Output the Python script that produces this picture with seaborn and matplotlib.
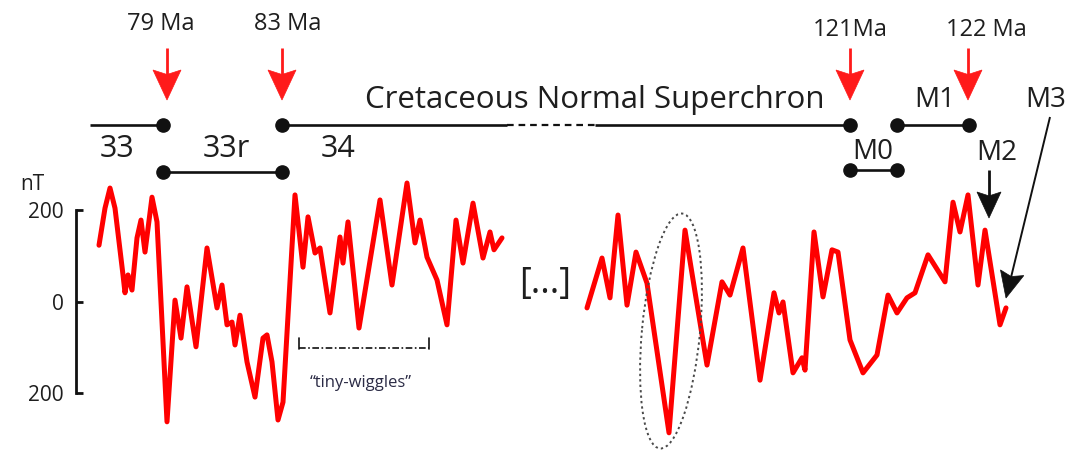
import matplotlib
matplotlib.use("Agg")
import matplotlib.pyplot as plt
import numpy as np
import pandas as pd
import seaborn as sns
from matplotlib.patches import Ellipse, Polygon

# ---- magnetic anomaly profile (along-track distance, total-field anomaly in nT)
dist_a = [99, 105, 110, 115, 123, 125, 128, 132, 137, 141, 145, 152, 157, 167,
          175, 181, 187, 196, 207, 217, 222, 227, 232, 235, 240, 247, 255, 263,
          267, 272, 278, 283, 295, 303, 308, 315, 320, 330, 340, 343, 348, 359,
          380, 392, 407, 415, 420, 427, 437, 447, 456, 463, 473, 483, 490, 494,
          502]
anom_a = [123, 204, 248, 204, 58, 19, 58, 25, 139, 178, 108, 228, 174, -263,
          3, -80, 32, -99, 117, -14, 36, -51, -45, -95, -30, -132, -209, -80,
          -73, -132, -259, -220, 233, 75, 185, 106, 117, -25, 141, 84, 174, -58,
          222, 36, 259, 128, 178, 97, 47, -51, 178, 84, 215, 95, 152, 113,
          139]

dist_b = [587, 602, 610, 618, 627, 636, 647, 669, 685, 695, 707, 722, 730,
          743, 760, 774, 779, 783, 793, 802, 805, 814, 823, 832, 838, 850, 863,
          877, 888, 897, 907, 915, 928, 945, 953, 960, 968, 978, 985, 1000,
          1006]
anom_b = [-14, 95, 8, 189, -8, 108, 40, -287, 156, 21, -139, 43, 14,
          117, -172, 19, -25, -1, -156, -123, -150, 152, 10, 113, 108, -84, -156,
          -117, 14, -25, 8, 19, 102, 43, 217, 152, 233, 36, 156, -51,
          -14]

scale_ticks = [-200, 0, 200]
scale_labels = ["200", "0", "200"]

age_labels = ["79 Ma", "83 Ma", "121Ma", "122 Ma"]
chron_labels = ["33", "33r", "34"]
m_labels = ["M0", "M1", "M2", "M3"]

profile = pd.concat([
    pd.DataFrame({"dist": dist_a, "anom": anom_a, "segment": "a"}),
    pd.DataFrame({"dist": dist_b, "anom": anom_b, "segment": "b"}),
], ignore_index=True)

sns.set_theme(style="white")
plt.rcParams["font.family"] = ["Open Sans", "DejaVu Sans"]

W, H = 1066, 455
fig = plt.figure(figsize=(W / 100, H / 100), dpi=100)
fig.patch.set_facecolor("white")

# profile axes: nT vertical scale, 0 nT at row 301.5, 0.4575 px per nT
ax = fig.add_axes([0, 0, 1, 1])
sns.lineplot(data=profile, x="dist", y="anom", units="segment", estimator=None,
             color="#ff0000", lw=3.6, ax=ax, legend=False)
for ln in ax.get_lines():
    ln.set_solid_joinstyle("round")
    ln.set_solid_capstyle("round")
px_per_nt = 0.4575
zero_row = 301.5
ax.set_xlim(0, W)
ax.set_ylim((zero_row - H) / px_per_nt, zero_row / px_per_nt)
ax.set_xlabel("")
ax.set_ylabel("")
ax.set_xticks([])
ax.patch.set_alpha(0)
for side in ("top", "right", "bottom"):
    ax.spines[side].set_visible(False)
ax.spines["left"].set_position(("data", 76))
ax.spines["left"].set_bounds(-200, 200)
ax.spines["left"].set_linewidth(2.0)
ax.spines["left"].set_color("#111111")
ax.set_yticks(scale_ticks)
ax.set_yticklabels(scale_labels)
ax.tick_params(axis="y", direction="in", length=5, width=2.0, color="#111111",
               pad=9, labelsize=15, labelcolor="#1e1e1e", left=True)

# annotation layer in figure pixel coordinates
ov = fig.add_axes([0, 0, 1, 1])
ov.set_xlim(0, W)
ov.set_ylim(H, 0)
ov.axis("off")
ov.patch.set_alpha(0)

ink = "#111111"
red = "#ff1a1a"
txt = "#1e1e1e"


def arrow(x0, y0, x1, y1, color, lw, head_len, head_w, notch=0.15):
    v = np.array([x1 - x0, y1 - y0], dtype=float)
    L = np.hypot(*v)
    u = v / L
    n = np.array([-u[1], u[0]])
    tip = np.array([x1, y1], dtype=float)
    base = tip - u * head_len
    ov.plot([x0, base[0] + u[0] * head_len * 0.3], [y0, base[1] + u[1] * head_len * 0.3],
            color=color, lw=lw, solid_capstyle="butt")
    pts = [base + n * head_w / 2, tip, base - n * head_w / 2,
           base + u * head_len * notch]
    ov.add_patch(Polygon(pts, closed=True, facecolor=color, edgecolor=color, lw=0.5))


# age labels with red arrows
age_text_x = [161, 288, 850, 986]
age_text_y = [24, 24, 30, 30]
age_arrow_x = [167, 282, 850, 968]
for lab, tx, ty, axx in zip(age_labels, age_text_x, age_text_y, age_arrow_x):
    ov.text(tx, ty, lab, ha="center", va="center", fontsize=17, color=txt)
    arrow(axx, 48, axx, 100, red, 2.0, 30, 28)

# polarity chron bars
line_kw = dict(color=ink, lw=1.9, solid_capstyle="butt")
dot_kw = dict(marker="o", ms=9.5, color=ink, ls="none")
ov.plot([90, 163], [125, 125], **line_kw)
ov.plot([282, 507], [125, 125], **line_kw)
ov.plot([507, 595], [125, 125], color=ink, lw=1.6, dashes=(3, 2.2))
ov.plot([595, 850], [125, 125], **line_kw)
ov.plot([897, 969], [125, 125], **line_kw)
ov.plot([163, 282], [172, 172], **line_kw)
ov.plot([850, 897], [170, 170], **line_kw)
ov.plot([163, 282, 850, 897, 969], [125] * 5, **dot_kw)
ov.plot([163, 282, 850, 897], [172, 172, 170, 170], **dot_kw)

ov.text(595, 100, "Cretaceous Normal Superchron", ha="center", va="center",
        fontsize=22.5, color=txt)
for lab, x in zip(chron_labels, [117, 226, 338]):
    ov.text(x, 149, lab, ha="center", va="center", fontsize=22, color=txt)
for lab, (x, y) in zip(m_labels, [(873, 152), (935, 100), (997, 153), (1046, 100)]):
    ov.text(x, y, lab, ha="center", va="center", fontsize=20, color=txt)

# black pointers to M2 and M3
arrow(989, 170, 989, 218, ink, 2.0, 26, 24)
arrow(1050, 117, 1006, 298, ink, 1.4, 26, 24)

# scale unit, gap marker and annotations
ov.text(32, 184, "nT", ha="center", va="center", fontsize=15, color=txt)
ov.text(545, 284, "[...]", ha="center", va="center", fontsize=26, color=txt)

ov.add_patch(Ellipse((671, 331), width=236, height=58, angle=-84.6, fill=False,
                     edgecolor="#4a4a4a", lw=1.4, ls=(0, (1.2, 1.6))))

ov.plot([299, 429], [348, 348], color=ink, lw=1.2, dashes=(4, 1.5, 1, 1.5))
ov.plot([299, 299], [338, 349], color=ink, lw=1.2)
ov.plot([429, 429], [338, 349], color=ink, lw=1.2)
ov.text(361, 383, "\u201ctiny-wiggles\u201d", ha="center", va="center",
        fontsize=12, color="#2b2b45")

fig.savefig("out.png", dpi=100, facecolor="white")
